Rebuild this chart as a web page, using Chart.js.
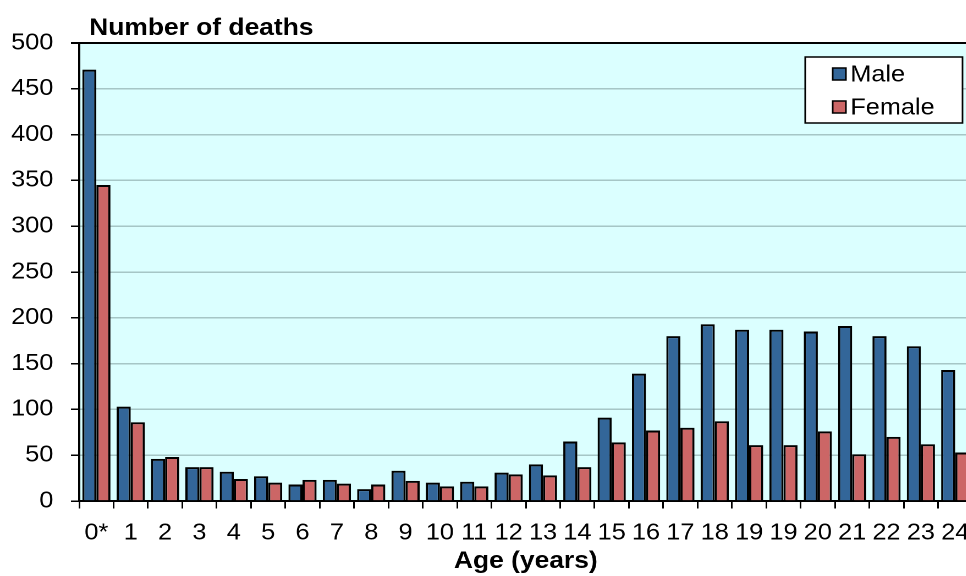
<!DOCTYPE html>
<html>
<head>
<meta charset="utf-8">
<title>Number of deaths by age</title>
<script src="https://cdn.jsdelivr.net/npm/chart.js@4"></script>
<style>
  html, body { margin: 0; padding: 0; background: #fff; overflow: hidden; }
  /* the reference is stretched sideways, so the canvas is too */
  #wrap { width: 900px; height: 576px; transform: scaleX(1.1); transform-origin: 0 0; }
</style>
</head>
<body>
<div id="wrap"><canvas id="deathsChart" width="900" height="576"></canvas></div>
<script>
    "use strict";

    var ages = ['0*', '1', '2', '3', '4', '5', '6', '7', '8', '9', '10', '11', '12',
        '13', '14', '15', '16', '17', '18', '19', '19', '20', '21', '22', '23', '24'];
    var maleDeaths = [471, 103, 46, 37, 32, 27, 18, 23, 13, 33, 20, 21, 31,
        40, 65, 91, 139, 180, 193, 187, 187, 185, 191, 180, 169, 143];
    var femaleDeaths = [345, 86, 48, 37, 24, 20, 23, 19, 18, 22, 16, 16, 29,
        28, 37, 64, 77, 80, 87, 61, 61, 76, 51, 70, 62, 53];
    var yTicks = [0, 50, 100, 150, 200, 250, 300, 350, 400, 450, 500];

    var FONT = '"Liberation Sans", Arial, sans-serif';

    // cyan plot background
    var plotBackground = {
        id: 'plotBackground',
        beforeDraw: function (chart) {
            var a = chart.chartArea, ctx = chart.ctx;
            ctx.save();
            ctx.fillStyle = '#dbffff';
            ctx.fillRect(a.left, a.top, a.right - a.left, a.bottom - a.top);
            ctx.restore();
        }
    };

    // y axis title above the plot and the boxed legend
    var extras = {
        id: 'extras',
        afterDraw: function (chart) {
            var a = chart.chartArea, ctx = chart.ctx;
            ctx.save();
            ctx.fillStyle = '#000';
            ctx.font = 'bold 24px ' + FONT;
            ctx.textBaseline = 'alphabetic';
            ctx.textAlign = 'left';
            ctx.fillText('Number of deaths', a.left + 9, 35);

            var bx = 732, by = 57, bw = 143, bh = 66;
            ctx.fillStyle = '#fff';
            ctx.fillRect(bx, by, bw, bh);
            ctx.strokeStyle = '#000';
            ctx.lineWidth = 1.5;
            ctx.strokeRect(bx, by, bw, bh);

            ctx.font = '23px ' + FONT;
            ctx.textBaseline = 'middle';
            chart.data.datasets.forEach(function (ds, i) {
                var cy = 74 + i * 33;
                ctx.fillStyle = ds.backgroundColor;
                ctx.fillRect(bx + 25, cy - 6, 12, 12);
                ctx.lineWidth = 1.5;
                ctx.strokeRect(bx + 25, cy - 6, 12, 12);
                ctx.fillStyle = '#000';
                ctx.fillText(ds.label, bx + 41, cy + 1);
            });
            ctx.restore();
        }
    };

    var ctx = document.getElementById('deathsChart');
    var chart = new Chart(ctx, {
        type: 'bar',
        data: {
            labels: ages,
            datasets: [
                {
                    label: 'Male',
                    backgroundColor: '#336699',
                    borderColor: '#000',
                    borderWidth: 2,
                    data: maleDeaths
                },
                {
                    label: 'Female',
                    backgroundColor: '#cc6666',
                    borderColor: '#000',
                    borderWidth: 2,
                    data: femaleDeaths
                }
            ]
        },
        options: {
            responsive: false,
            devicePixelRatio: 2,
            animation: false,
            layout: { padding: { top: 43, right: 16, left: 0, bottom: 0 } },
            datasets: { bar: { categoryPercentage: 0.82, barPercentage: 1.0 } },
            plugins: {
                legend: { display: false },
                tooltip: { enabled: false }
            },
            scales: {
                x: {
                    afterFit: function (scale) { scale.height = 75; },
                    grid: {
                        offset: true,
                        drawOnChartArea: false,
                        tickColor: '#000',
                        tickLength: 7.5,
                        lineWidth: 1.5
                    },
                    border: { color: '#000', width: 2 },
                    ticks: {
                        autoSkip: false,
                        maxRotation: 0,
                        padding: 11,
                        color: '#000',
                        font: { family: FONT, size: 23 }
                    },
                    title: {
                        display: true,
                        text: 'Age (years)',
                        color: '#000',
                        padding: { top: 0, bottom: 0 },
                        font: { family: FONT, size: 24, weight: 'bold' }
                    }
                },
                y: {
                    min: 0,
                    max: 500,
                    afterFit: function (scale) { scale.width = 72; },
                    afterBuildTicks: function (scale) {
                        scale.ticks = yTicks.map(function (v) { return { value: v }; });
                    },
                    grid: {
                        color: function (c) { return c.tick && c.tick.value === 500 ? '#000' : '#a6c6c6'; },
                        lineWidth: function (c) { return c.tick && c.tick.value === 500 ? 2 : 1.5; },
                        tickColor: '#000',
                        tickLength: 7.5
                    },
                    border: { color: '#000', width: 2 },
                    ticks: {
                        padding: 16,
                        color: '#000',
                        font: { family: FONT, size: 23 }
                    }
                }
            }
        },
        plugins: [plotBackground, extras]
    });
</script>
</body>
</html>
